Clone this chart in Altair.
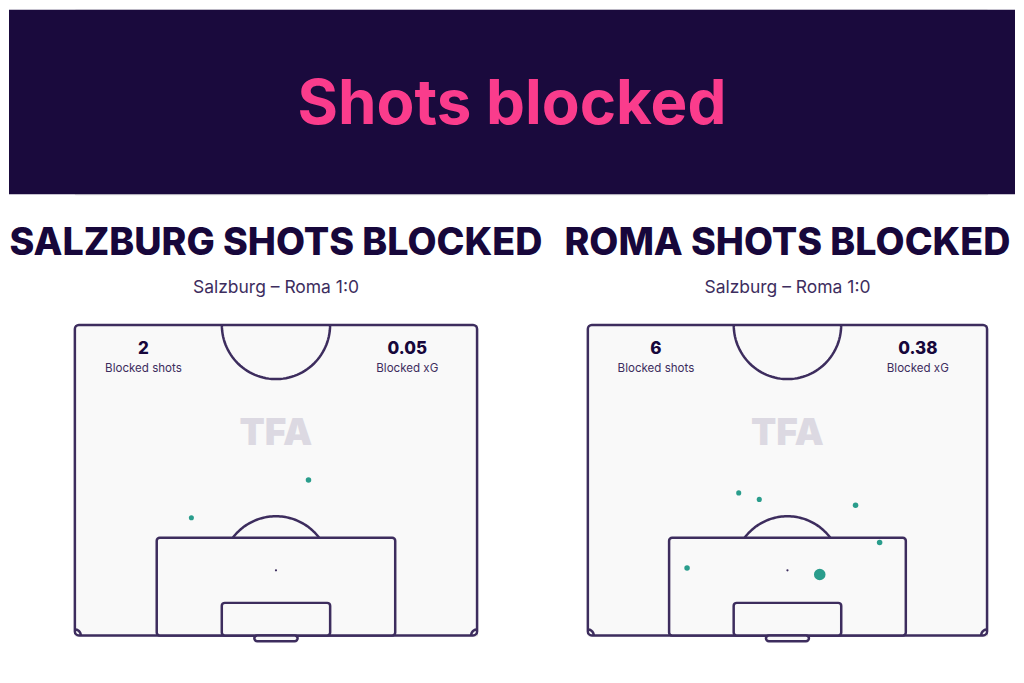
import altair as alt
import pandas as pd
import numpy as np

# ---------------- data ----------------
header_title = "Shots blocked"
panel_titles = ["SALZBURG SHOTS BLOCKED", "ROMA SHOTS BLOCKED"]
match_subtitle = "Salzburg – Roma 1:0"
blocked_shots = [2, 6]
blocked_xg = ["0.05", "0.38"]
stat_labels = ["Blocked shots", "Blocked xG"]

# shot locations in metres (x across pitch width 0-68, y distance from goal line)
salzburg_x = [39.5, 19.7]
salzburg_y = [26.3, 19.9]
salzburg_xg = [0.03, 0.02]

roma_x = [25.7, 29.2, 45.6, 49.7, 16.9, 39.5]
roma_y = [24.1, 23.0, 22.0, 15.7, 11.4, 10.3]
roma_xg = [0.02, 0.02, 0.03, 0.03, 0.03, 0.25]

# ---------------- style ----------------
BG_DARK = "#1a0a3d"
PINK = "#fa3c8c"
TITLE_C = "#17073b"
LINE_C = "#3d2d5e"
PITCH_FILL = "#f9f9f9"
TEAL = "#2a9d8c"
FONT = "Inter"

W, L = 68.0, 52.5  # half pitch size in metres


def arc(cx, cy, r, a0, a1, gid, n=60):
    t = np.radians(np.linspace(a0, a1, n))
    return pd.DataFrame({"x": cx + r * np.cos(t), "y": cy + r * np.sin(t),
                         "g": gid, "o": np.arange(n)})


arcs = pd.concat([
    arc(W / 2, L, 9.15, 180, 360, "centre"),
    arc(W / 2, 11, 9.15, 36.87, 143.13, "d"),
    arc(0, 0, 1.0, 0, 90, "c1", 20),
    arc(W, 0, 1.0, 90, 180, "c2", 20),
])

outer = pd.DataFrame({"x": [0.0], "x2": [W], "y": [0.0], "y2": [L]})
boxes = pd.DataFrame({
    "x": [W / 2 - 20.16, W / 2 - 9.16, W / 2 - 3.66],
    "x2": [W / 2 + 20.16, W / 2 + 9.16, W / 2 + 3.66],
    "y": [0.0, 0.0, -1.0],
    "y2": [16.5, 5.5, 0.0],
})
spot = pd.DataFrame({"x": [W / 2], "y": [11.0]})


def panel(title, xs, ys, xgs, n_shots, xg_total, pw, ph):
    xsc = alt.Scale(domain=[0, W], nice=False, zero=False)
    ysc = alt.Scale(domain=[0, L], nice=False, zero=False)
    X = lambda f="x": alt.X(f, type="quantitative", scale=xsc, axis=None)
    Y = lambda f="y": alt.Y(f, type="quantitative", scale=ysc, axis=None)

    base_outer = alt.Chart(outer).mark_rect(
        fill=PITCH_FILL, stroke=LINE_C, strokeWidth=2.5, cornerRadius=4
    ).encode(x=X(), x2="x2", y=Y(), y2="y2")

    wm = alt.Chart(pd.DataFrame({"x": [W / 2], "y": [34.1], "t": ["TFA"]})).mark_text(
        font=FONT, fontWeight=900, fontSize=37, color="#dcd9e2", baseline="middle"
    ).encode(x=X(), y=Y(), text="t:N")

    arc_l = alt.Chart(arcs).mark_line(
        color=LINE_C, strokeWidth=2.5
    ).encode(x=X(), y=Y(), detail="g:N", order="o:Q")

    box_l = alt.Chart(boxes).mark_rect(
        fill=PITCH_FILL, stroke=LINE_C, strokeWidth=2.5, cornerRadius=3
    ).encode(x=X(), x2="x2", y=Y(), y2="y2")

    spot_l = alt.Chart(spot).mark_circle(color=LINE_C, size=5, opacity=1).encode(x=X(), y=Y())

    stats = pd.DataFrame({
        "x": [11.6, 56.2], "y": [48.4, 48.4],
        "v": [str(n_shots), xg_total],
        "ly": [45.1, 45.1], "lab": stat_labels,
    })
    num_t = alt.Chart(stats).mark_text(
        font=FONT, fontWeight=800, fontSize=17, color=TITLE_C, baseline="middle"
    ).encode(x=X(), y=Y(), text="v:N")
    lab_t = alt.Chart(stats).mark_text(
        font=FONT, fontSize=11.6, color=LINE_C, baseline="middle"
    ).encode(x=X(), y=Y("ly"), text="lab:N")

    shots = pd.DataFrame({"x": xs, "y": ys, "xg": xgs})
    pts = alt.Chart(shots).mark_circle(color=TEAL, opacity=1).encode(
        x=X(), y=Y(),
        size=alt.Size("xg:Q", scale=alt.Scale(domain=[0.02, 0.25], range=[26, 135], zero=False),
                      legend=None),
    )

    return alt.layer(base_outer, wm, box_l, arc_l, spot_l, num_t, lab_t, pts).properties(
        width=pw, height=ph,
        title=alt.TitleParams(
            text=title, subtitle=match_subtitle, anchor="middle",
            font=FONT, fontSize=37.7, fontWeight=800, color=TITLE_C,
            subtitleFont=FONT, subtitleFontSize=17.5, subtitleColor=LINE_C,
            subtitleFontWeight=400, subtitlePadding=16, offset=24,
        ),
    )


left = panel(panel_titles[0], salzburg_x, salzburg_y, salzburg_xg, blocked_shots[0], blocked_xg[0], 403, 311)
right = panel(panel_titles[1], roma_x, roma_y, roma_xg, blocked_shots[1], blocked_xg[1], 400, 311)

head_df = pd.DataFrame({"t": [header_title]})
header = alt.layer(
    alt.Chart(head_df).mark_rect(color=BG_DARK).encode(
        x=alt.value(-66), x2=alt.value(942), y=alt.value(0), y2=alt.value(185)),
    alt.Chart(head_df).mark_text(
        font=FONT, fontWeight=700, fontSize=62, color=PINK, baseline="alphabetic", align="center"
    ).encode(x=alt.value(438), y=alt.value(115), text="t:N"),
).properties(width=914, height=185)

row = alt.hconcat(left, right, spacing=111, bounds="flush").resolve_scale(
    x="independent", y="independent", size="independent")

chart = alt.vconcat(header, row, spacing=131, bounds="flush").properties(
    padding={"left": 0, "top": 0, "right": 0, "bottom": 4}
).configure_view(stroke=None).configure(background="white")

chart.save("out.html", embed_options={"renderer": "svg", "actions": False})
